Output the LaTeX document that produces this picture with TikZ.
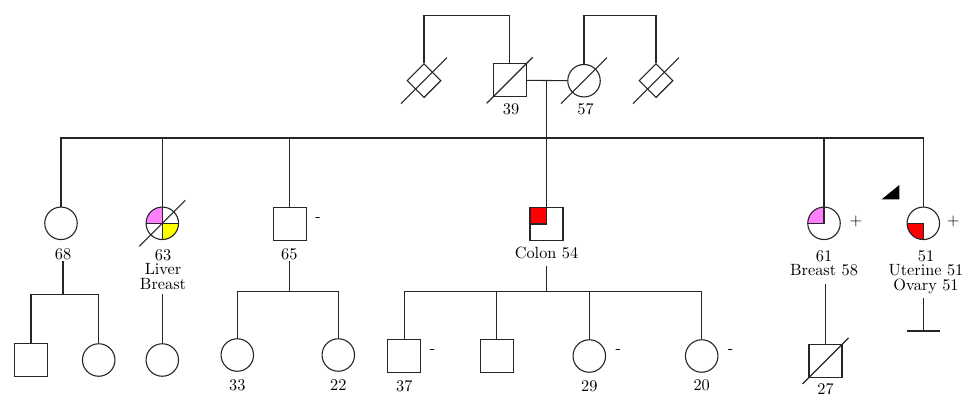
\documentclass[tikz,border=0pt]{standalone}
\usepackage{fontspec}
\setmainfont{lmroman10-regular.otf}
\usetikzlibrary{shapes.geometric,calc}
\definecolor{pinkq}{RGB}{255,128,255}
\definecolor{redq}{RGB}{255,0,0}
\definecolor{yellowq}{RGB}{255,255,0}
\begin{document}
\begin{tikzpicture}[x=1pt,y=-1pt,
  ln/.style={line width=1.1pt,draw=black!85},
  male/.style={ln,draw,rectangle,minimum size=33pt,inner sep=0pt},
  female/.style={ln,draw,circle,minimum size=32.5pt,inner sep=0pt},
  unk/.style={ln,draw,diamond,minimum width=34pt,minimum height=34pt,inner sep=0pt},
  lbl/.style={font=\fontsize{16.3}{14.5}\selectfont,inner sep=1.5pt,align=center},
  qTL/.style={path picture={\fill[#1] (path picture bounding box.center) rectangle (path picture bounding box.north west);}},
  qTLBR/.style 2 args={path picture={
      \fill[#1] (path picture bounding box.center) rectangle (path picture bounding box.north west);
      \fill[#2] (path picture bounding box.center) rectangle (path picture bounding box.south east);}},
  qBL/.style={path picture={\fill[#1] (path picture bounding box.center) rectangle (path picture bounding box.south west);}},
]
\useasboundingbox (0,0) rectangle (963,394);

% ---------- generation I ----------
\node[unk]    (d1)  at (424,80.7) {};
\node[male]   (s39) at (509.7,80.3) {};
\node[female] (c57) at (584,80.7) {};
\node[unk]    (d2)  at (656,80.7) {};
\node[lbl] (lab39) at (511,109) {39};
\node[lbl] (lab57) at (585.5,109) {57};
\foreach \n in {d1,s39,c57,d2}
  \draw[ln] ([shift={(-23,23)}]\n.center) -- ([shift={(23,-23)}]\n.center);
\draw[ln] (d1.north) -- ++(0,-48) -| (s39.north);
\draw[ln] (c57.north) -- ++(0,-48) -| (d2.north);
\draw[ln] (s39.east) -- (c57.west);
\coordinate (mar) at (546.5,80.5);
\coordinate (sibL) at (61,138);
\draw[ln] (mar) -- (mar |- sibL);

% ---------- generation II ----------
\node[female] (c68) at (61,223.3) {};
\node[female,qTLBR={pinkq}{yellowq}] (c63) at (162.3,223.3) {};
\node[male]   (s65) at (289.7,224) {};
\node[male,qTL=redq] (s54) at (546.5,224) {};
\node[female,qTL=pinkq] (c61) at (824,223.3) {};
\node[female,qBL=redq] (c51) at (923.3,223.3) {};

\draw[ln] (c63.west) -- (c63.east) (c63.north) -- (c63.south);
\draw[ln] ([shift={(-23,23)}]c63.center) -- ([shift={(23,-23)}]c63.center);
\draw[ln] (s54.north) -- (s54.center) -- (s54.west);
\draw[ln] (c61.west) -- (c61.center) -- (c61.north);
\draw[ln] (c51.west) -- (c51.center) -- (c51.south);

\draw[ln] (c68.north) |- (c51.north |- sibL) -- (c51.north);
\foreach \n in {c63,s65,s54,c61}
  \draw[ln] (\n.north) -- (\n.north |- sibL);

\node[lbl] (l68) at (63,254) {68};
\node[lbl,anchor=north] (l63) at (163,247.5) {63\\Liver\\Breast};
\node[lbl] (l65) at (289.3,254) {65};
\node[lbl] (sg65) at (318,219) {-};
\node[lbl] (l54) at (546.5,253) {Colon 54};
\node[lbl,anchor=north] (l61) at (824,248.5) {61\\Breast 58};
\node[lbl] (sg61) at (856,221) {+};
\node[lbl,anchor=north] (l51) at (926,248.5) {51\\Uterine 51\\Ovary 51};
\node[lbl] (sg51) at (953.3,221) {+};
\fill (881.7,199.3) -- (899.3,199.3) -- (899.3,185) -- cycle;

% ---------- generation III ----------
\node[male]   (s3a) at (31,360) {};
\node[female] (c3b) at (98.7,360) {};
\node[female] (c3c) at (162.3,360) {};
\node[female] (c33) at (237.3,355) {};
\node[female] (c22) at (338.3,355) {};
\node[male]   (s37) at (404.3,356) {};
\node[male]   (s3e) at (496.7,356) {};
\node[female] (c29) at (589.3,356) {};
\node[female] (c20) at (701.7,356) {};
\node[male]   (s27) at (825.5,361) {};
\draw[ln] ([shift={(-23,23)}]s27.center) -- ([shift={(23,-23)}]s27.center);

\node[lbl] (l33) at (237.3,385) {33};
\node[lbl] (l22) at (338.3,385) {22};
\node[lbl] (l37) at (404.3,386) {37};
\node[lbl] (l29) at (589.3,386) {29};
\node[lbl] (l20) at (701.7,385) {20};
\node[lbl] (l27) at (825.5,389) {27};
\node[lbl] (sg37) at (432.7,351.7) {-};
\node[lbl] (sg29) at (618.3,351.7) {-};
\node[lbl] (sg20) at (730.7,351.7) {-};

% children of 68
\coordinate (f68) at (63,294.3);
\draw[ln] (l68.south) -- (f68);
\draw[ln] (s3a.north) |- (c3b.north |- f68) -- (c3b.north);
% child of 63
\draw[ln] (l63.south -| c3c.north) ++(0,3) -- (c3c.north);
% children of 65
\coordinate (f65) at (289.3,291.7);
\draw[ln] (l65.south) -- (f65);
\draw[ln] (c33.north) |- (c22.north |- f65) -- (c22.north);
% children of 54
\coordinate (f54) at (546.5,291.7);
\draw[ln] (l54.south) ++(0,5) -- (f54);
\draw[ln] (s37.north) |- (c20.north |- f54) -- (c20.north);
\draw[ln] (s3e.north) -- (s3e.north |- f54);
\draw[ln] (c29.north) -- (c29.north |- f54);
% child of 61
\draw[ln] (l61.south -| s27.north) ++(0,6) -- (s27.north);
% 51: no offspring
\coordinate (t51) at (923.3,331);
\draw[ln] (l51.south -| c51.center) ++(0,3) -- (t51);
\draw[ln] (t51) +(-16.6,0) -- +(16.6,0);
\end{tikzpicture}
\end{document}
